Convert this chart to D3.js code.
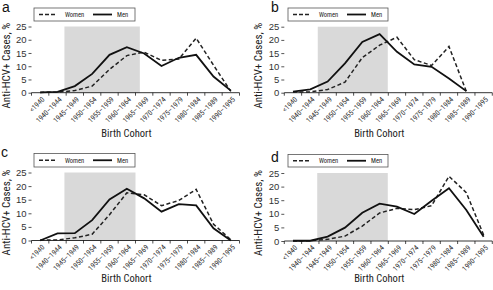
<!DOCTYPE html>
<html>
<head>
<meta charset="utf-8">
<script src="https://cdn.jsdelivr.net/npm/d3@7"></script>
<style>
  body { margin: 0; background: #fff; }
  svg { display: block; font-family: "Liberation Sans Narrow", "Roboto Condensed", "Liberation Sans", Arial, sans-serif; }
</style>
</head>
<body>
<svg id="chart" width="493" height="290"></svg>
<script>
// birth cohorts on the x axis
const cohorts = ["<1940", "1940–1944", "1945–1949", "1950–1954", "1955–1959", "1960–1964",
                 "1965–1969", "1970–1974", "1975–1979", "1980–1984", "1985–1989", "1990–1995"];
const yTicks = [0, 5, 10, 15, 20, 25];
const panelLetters = ["a", "b", "c", "d"];
const seriesNames = ["Women", "Men"];

// anti-HCV+ cases, %
const womenA = [0.1, 0.2, 0.8, 2.5, 8.8, 14.0, 15.3, 12.2, 12.7, 20.6, 10.4, 0.5];
const menA   = [0.1, 0.3, 2.5, 7.1, 14.3, 17.2, 14.8, 10.1, 13.2, 14.3, 6.1, 0.8];
const womenB = [0.3, 0.3, 1.2, 4.0, 13.3, 18.0, 21.0, 12.5, 10.3, 17.5, 0.5, null];
const menB   = [0.4, 1.3, 4.2, 11.1, 19.2, 22.2, 15.5, 10.7, 9.8, 5.4, 0.6, null];
const womenC = [0.2, 0.2, 1.0, 2.3, 9.5, 17.5, 16.8, 12.8, 14.7, 18.8, 6.0, 0.3];
const menC   = [0.0, 2.6, 2.7, 7.5, 15.1, 19.0, 15.5, 10.6, 13.4, 12.9, 4.5, 0.0];
const womenD = [0.0, 0.1, 0.6, 1.8, 5.5, 10.3, 12.0, 11.5, 13.0, 23.8, 17.8, 2.2];
const menD   = [0.1, 0.1, 1.6, 4.9, 10.4, 13.7, 12.6, 9.9, 14.8, 19.4, 11.4, 1.6];

// shaded cohort span (band index, fractional)
const shadeA = [1.9, 6.25];
const shadeB = [1.93, 5.97];
const shadeC = [1.9, 6.0];
const shadeD = [1.9, 5.97];

const svg = d3.select("#chart");

const panels = [
  { women: womenA, men: menA, shade: shadeA, x0: 31.5, x1: 239.5, yTop: 26.5, yBot: 92.7,
    legend: { x: 34, y: 8, w: 101, h: 13 }, letter: [2, 12], xTitleY: 137 },
  { women: womenB, men: menB, shade: shadeB, x0: 284.3, x1: 492.3, yTop: 26.7, yBot: 92.7,
    legend: { x: 288, y: 8, w: 100, h: 13 }, letter: [271, 12], xTitleY: 137 },
  { women: womenC, men: menC, shade: shadeC, x0: 31.5, x1: 239.5, yTop: 172.5, yBot: 240.5,
    legend: { x: 34, y: 153.5, w: 101, h: 13.5 }, letter: [1, 157], xTitleY: 282 },
  { women: womenD, men: menD, shade: shadeD, x0: 284.3, x1: 492.3, yTop: 173, yBot: 241,
    legend: { x: 288, y: 154.5, w: 100, h: 12.5 }, letter: [271, 161.5], xTitleY: 282 }
];

panels.forEach((p, pi) => {
  const g = svg.append("g");

  const x = d3.scaleBand().domain(cohorts).range([p.x0, p.x1]);
  const step = x.step();
  const cx = d => x(d) + step / 2;
  const y = d3.scaleLinear().domain([0, 25]).range([p.yBot, p.yTop]);

  // shading
  g.append("rect")
    .attr("x", p.x0 + p.shade[0] * step)
    .attr("y", y(25))
    .attr("width", (p.shade[1] - p.shade[0]) * step)
    .attr("height", y(0) - y(25))
    .attr("fill", "#d9d9d9");

  // y axis (ticks only)
  const yAxis = g.append("g")
    .attr("transform", `translate(${p.x0},0)`)
    .call(d3.axisLeft(y).tickValues(yTicks).tickSize(3).tickPadding(2));
  yAxis.select(".domain").remove();
  yAxis.selectAll("line").attr("stroke", "#555");
  yAxis.selectAll("text").attr("font-size", 9.5).attr("fill", "#333")
    .attr("font-family", "Liberation Sans Narrow, Liberation Sans, sans-serif");

  // x axis
  const xAxis = g.append("g").attr("transform", `translate(0,${p.yBot})`);
  xAxis.append("line")
    .attr("x1", p.x0).attr("x2", p.x1)
    .attr("stroke", "#000").attr("stroke-width", 0.8);
  xAxis.selectAll(".tk")
    .data(d3.range(cohorts.length + 1))
    .join("line")
    .attr("x1", i => p.x0 + i * step).attr("x2", i => p.x0 + i * step)
    .attr("y1", 0).attr("y2", 3)
    .attr("stroke", "#000").attr("stroke-width", 0.7);
  xAxis.selectAll(".lbl")
    .data(cohorts)
    .join("text")
    .attr("transform", d => `translate(${cx(d) + 3},${5.5}) rotate(-45)`)
    .attr("text-anchor", "end")
    .attr("dy", "0.35em")
    .attr("font-size", 7.3)
    .attr("fill", "#333")
    .text(d => d);

  // lines
  const line = d3.line()
    .defined(d => d.v != null)
    .x(d => cx(d.c))
    .y(d => y(d.v));
  const toPts = arr => cohorts.map((c, i) => ({ c: c, v: arr[i] }));

  g.append("path")
    .datum(toPts(p.women))
    .attr("d", line)
    .attr("fill", "none")
    .attr("stroke", "#222")
    .attr("stroke-width", 1.5)
    .attr("stroke-dasharray", "4,2.5");
  g.append("path")
    .datum(toPts(p.men))
    .attr("d", line)
    .attr("fill", "none")
    .attr("stroke", "#111")
    .attr("stroke-width", 1.8);

  // legend
  const L = p.legend;
  const lg = g.append("g").attr("transform", `translate(${L.x},${L.y})`);
  lg.append("rect")
    .attr("width", L.w).attr("height", L.h)
    .attr("fill", "#fff").attr("stroke", "#555").attr("stroke-width", 0.8);
  lg.append("line")
    .attr("x1", 5).attr("x2", 21).attr("y1", L.h / 2).attr("y2", L.h / 2)
    .attr("stroke", "#222").attr("stroke-width", 1.5).attr("stroke-dasharray", "4,2");
  lg.append("text")
    .attr("x", 31).attr("y", L.h / 2).attr("dy", "0.35em")
    .attr("font-size", 6.5).attr("fill", "#222").text(seriesNames[0]);
  lg.append("line")
    .attr("x1", 59).attr("x2", 78).attr("y1", L.h / 2).attr("y2", L.h / 2)
    .attr("stroke", "#111").attr("stroke-width", 1.8);
  lg.append("text")
    .attr("x", 83).attr("y", L.h / 2).attr("dy", "0.35em")
    .attr("font-size", 6.5).attr("fill", "#222").text(seriesNames[1]);

  // panel letter
  g.append("text")
    .attr("x", p.letter[0]).attr("y", p.letter[1])
    .attr("font-size", 14).attr("fill", "#111")
    .attr("font-family", "Liberation Sans, Arial, sans-serif")
    .text(panelLetters[pi]);

  // y title
  g.append("text")
    .attr("transform", `translate(${p.x0 - 22},${(p.yTop + p.yBot) / 2 + 6}) rotate(-90)`)
    .attr("text-anchor", "middle")
    .attr("font-size", 11)
    .attr("fill", "#222")
    .text("Anti-HCV+ Cases, %");

  // x title
  g.append("text")
    .attr("x", (p.x0 + p.x1) / 2 - 9)
    .attr("y", p.xTitleY)
    .attr("text-anchor", "middle")
    .attr("font-size", 10.5)
    .attr("fill", "#222")
    .text("Birth Cohort");
});
</script>
</body>
</html>
